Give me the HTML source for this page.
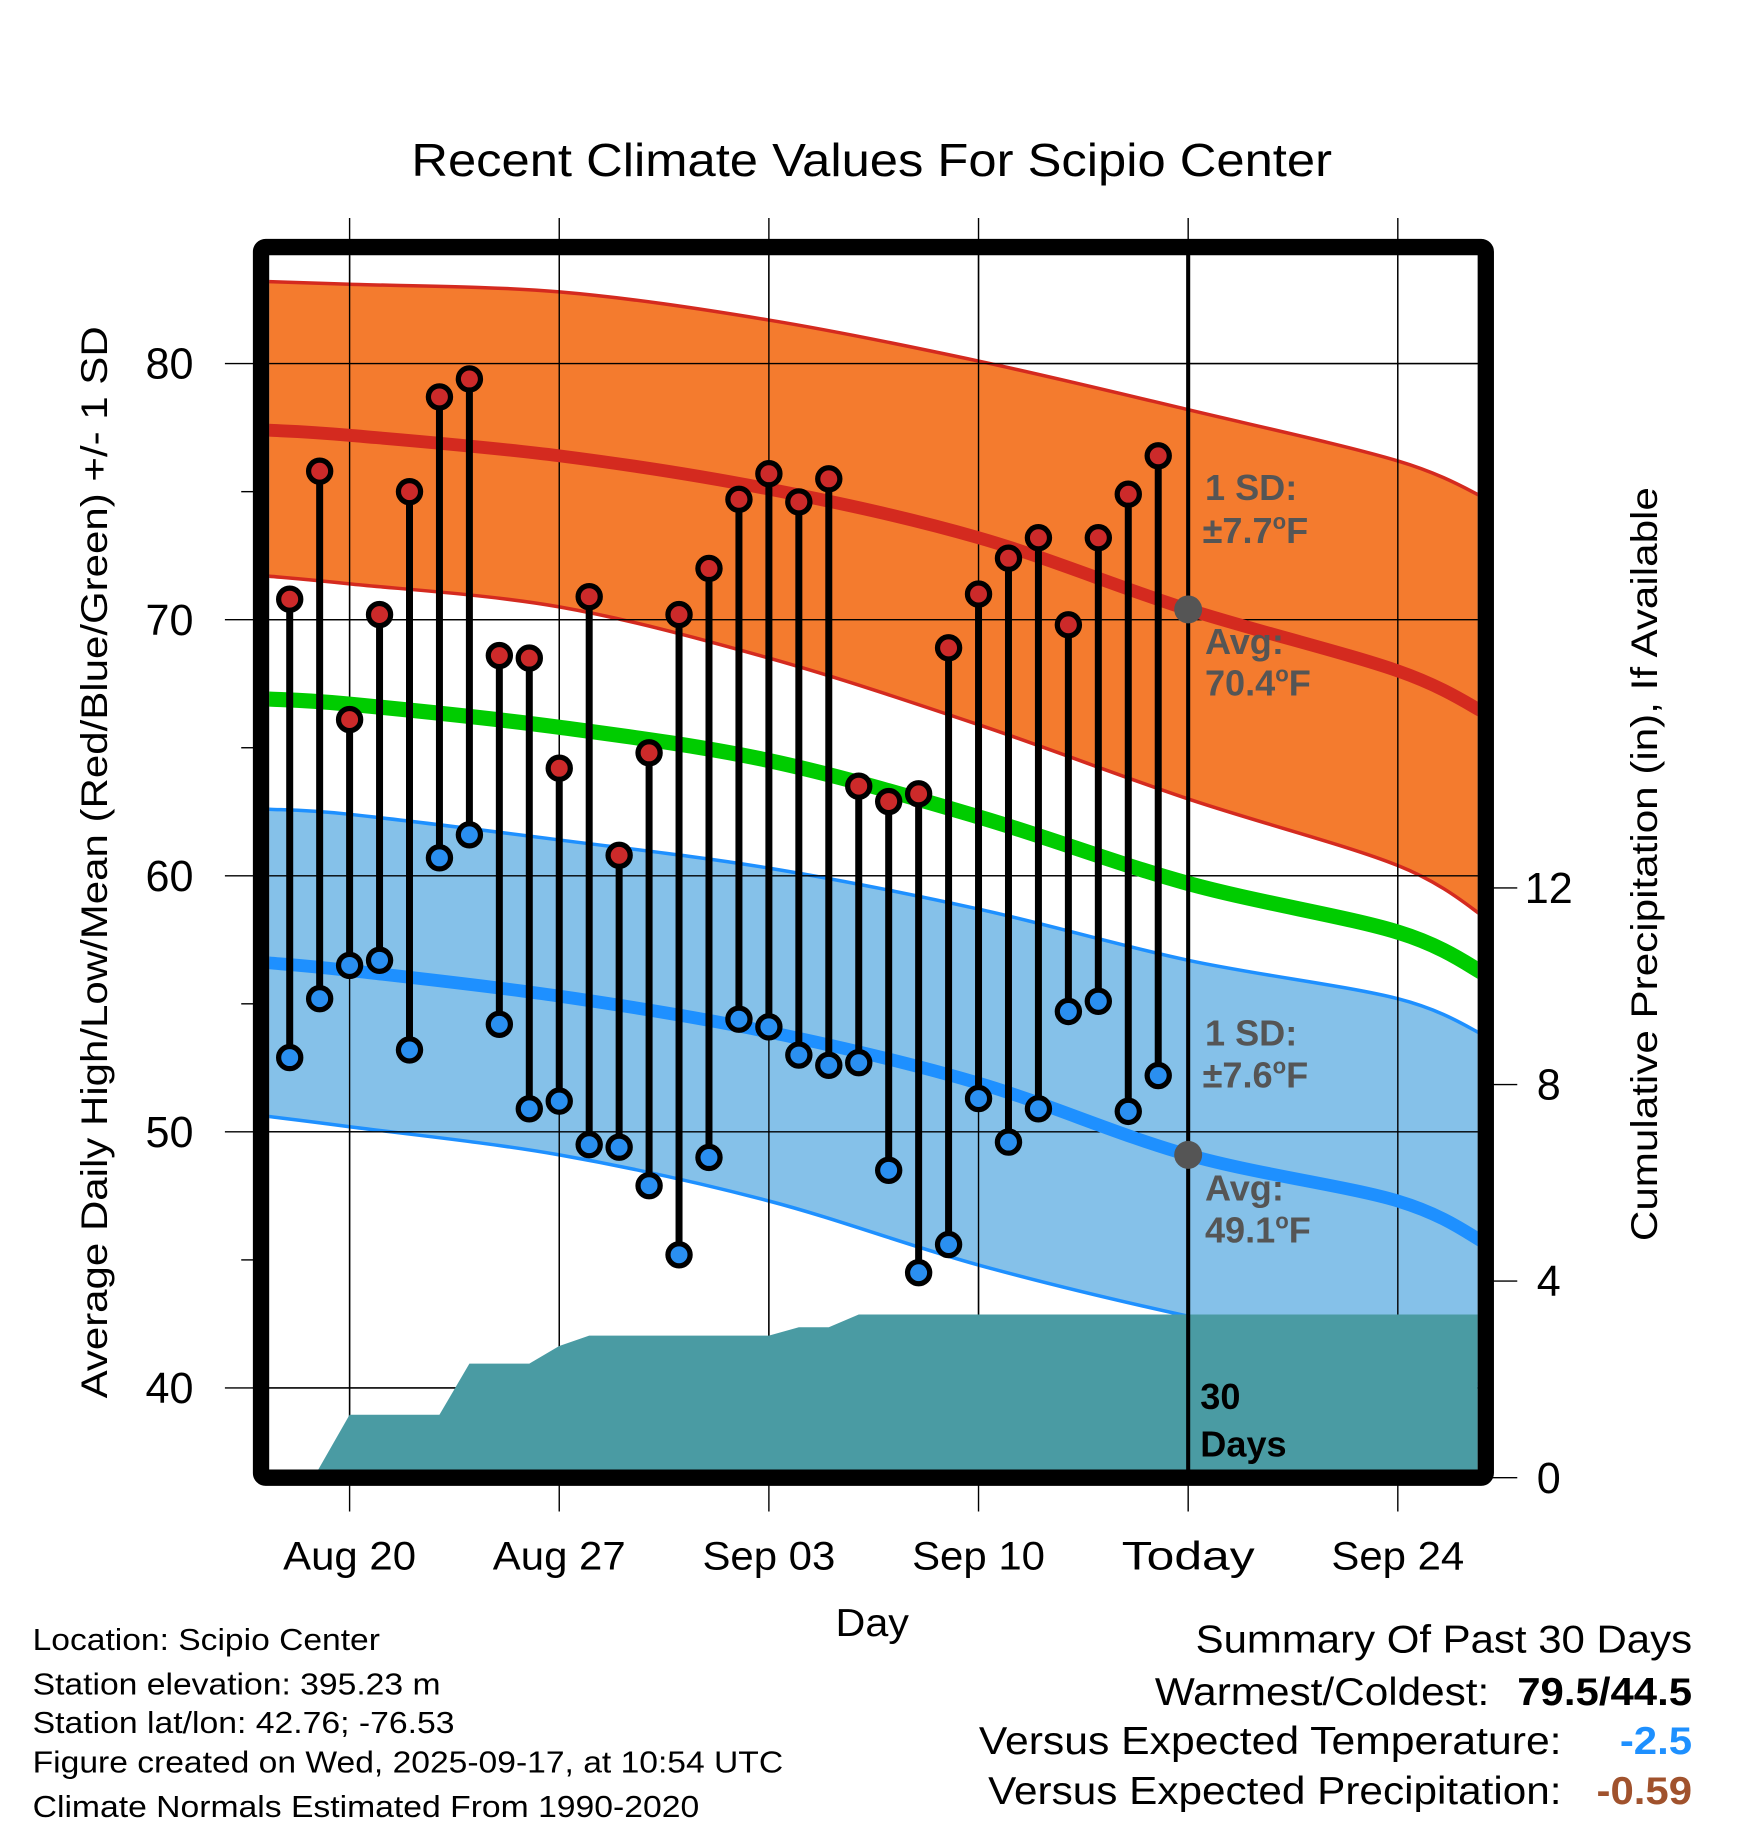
<!DOCTYPE html>
<html><head><meta charset="utf-8"><style>
html,body{margin:0;padding:0;background:#fff;}
svg{display:block;font-family:"Liberation Sans",Arial,sans-serif;}
</style></head><body>
<svg id="chart" width="1748" height="1828" viewBox="0 0 1500 1568.6" xmlns="http://www.w3.org/2000/svg">
<defs><clipPath id="plotclip"><rect x="231" y="219" width="1037" height="1042"/></clipPath></defs>
<rect width="1500" height="1570" fill="#fff"/>
<text x="353" y="151" font-size="40" textLength="790" lengthAdjust="spacingAndGlyphs">Recent Climate Values For Scipio Center</text>
<g id="axes"></g>
<g id="plot" clip-path="url(#plotclip)"></g>
<g id="over"></g>
<rect x="224" y="212" width="1051" height="1056" fill="none" stroke="#000" stroke-width="14" rx="4"/>
<text transform="translate(92,1200) rotate(-90)" font-size="32" textLength="920" lengthAdjust="spacingAndGlyphs">Average Daily High/Low/Mean (Red/Blue/Green) +/- 1 SD</text>
<text transform="translate(1422,1065) rotate(-90)" font-size="32" textLength="647" lengthAdjust="spacingAndGlyphs">Cumulative Precipitation (in), If Available</text>
<text x="717" y="1404" font-size="33" textLength="63" lengthAdjust="spacingAndGlyphs">Day</text>
<g font-size="26">
<text x="28" y="1416" textLength="298" lengthAdjust="spacingAndGlyphs">Location: Scipio Center</text>
<text x="28" y="1454" textLength="350" lengthAdjust="spacingAndGlyphs">Station elevation: 395.23 m</text>
<text x="28" y="1487" textLength="362" lengthAdjust="spacingAndGlyphs">Station lat/lon: 42.76; -76.53</text>
<text x="28" y="1521" textLength="644" lengthAdjust="spacingAndGlyphs">Figure created on Wed, 2025-09-17, at 10:54 UTC</text>
<text x="28" y="1559" textLength="572" lengthAdjust="spacingAndGlyphs">Climate Normals Estimated From 1990-2020</text>
</g>
<g font-size="33">
<text x="1026" y="1418" textLength="426" lengthAdjust="spacingAndGlyphs">Summary Of Past 30 Days</text>
<text x="991" y="1463" textLength="287" lengthAdjust="spacingAndGlyphs">Warmest/Coldest:</text>
<text x="1302" y="1463" font-weight="bold" textLength="150" lengthAdjust="spacingAndGlyphs">79.5/44.5</text>
<text x="840" y="1505" textLength="500" lengthAdjust="spacingAndGlyphs">Versus Expected Temperature:</text>
<text x="1390" y="1505" font-weight="bold" fill="#1e90ff" textLength="62" lengthAdjust="spacingAndGlyphs">-2.5</text>
<text x="848" y="1548" textLength="492" lengthAdjust="spacingAndGlyphs">Versus Expected Precipitation:</text>
<text x="1370" y="1548" font-weight="bold" fill="#a0522d" textLength="82" lengthAdjust="spacingAndGlyphs">-0.59</text>
</g>
</svg>
<script>
// data (days relative to Aug 20)
const obsDays=[-2,-1,0,1,2,3,4,5,6,7,8,9,10,11,12,13,14,15,16,17,18,19,20,21,22,23,24,25,26,27];
const highs=[70.8,75.8,66.1,70.2,75.0,78.7,79.4,68.6,68.5,64.2,70.9,60.8,64.8,70.2,72.0,74.7,75.7,74.6,75.5,63.5,62.9,63.2,68.9,71.0,72.4,73.2,69.8,73.2,74.9,76.4];
const lows=[52.9,55.2,56.5,56.7,53.2,60.7,61.6,54.2,50.9,51.2,49.5,49.4,47.9,45.2,49.0,54.4,54.1,53.0,52.6,52.7,48.5,44.5,45.6,51.3,49.6,50.9,54.7,55.1,50.8,52.2];
const precipDays=[-1.2,0,1,2,3,4,5,6,7,8,9,10,11,12,13,14,15,16,17,18,19,20,21,22,23,24,25,26,27,28,35,38];
const precipCum=[0,1.28,1.28,1.28,1.28,2.32,2.32,2.32,2.68,2.89,2.89,2.89,2.89,2.89,2.89,2.89,3.06,3.06,3.32,3.32,3.32,3.32,3.32,3.32,3.32,3.32,3.32,3.32,3.32,3.32,3.32,3.32];
const normDays=[-2.7,0,7,14,21,28,35,38];
const avgHigh=[77.4,77.2,76.4,75.1,73.2,70.4,68.0,66.3];
const highUpper=[83.2,83.1,82.8,81.7,80.1,78.2,76.2,74.7];
const highLower=[71.7,71.4,70.5,68.5,65.9,63.0,60.4,58.3];
const avgMean=[66.9,66.7,65.8,64.5,62.3,59.7,57.8,56.1];
const avgLow=[56.6,56.3,55.3,53.9,51.9,49.1,47.3,45.6];
const lowUpper=[62.6,62.4,61.4,60.3,58.7,56.7,55.2,53.7];
const lowLower=[50.6,50.2,49.1,47.3,44.8,42.8,41.2,40.0];
const xTickDays=[0,7,14,21,28,35];
const xTickLabels=["Aug 20","Aug 27","Sep 03","Sep 10","Today","Sep 24"];
const yTicks=[40,50,60,70,80];
const yMinor=[45,55,65,75];
const pTicks=[0,4,8,12];
const todayDay=28;

const NS="http://www.w3.org/2000/svg";
const X=d=>300+d*25.7;
const Y=v=>312+(80-v)*21.975;
const P=v=>1268-v*42.17;
function mk(tag,attrs,parent){const e=document.createElementNS(NS,tag);for(const k in attrs)e.setAttribute(k,attrs[k]);parent.appendChild(e);return e;}
const axes=document.getElementById('axes'),plot=document.getElementById('plot'),over=document.getElementById('over');

// smooth curve through points (Catmull-Rom -> cubic bezier), returns segment string without leading M
function smooth(pts){
  let s="";
  for(let i=0;i<pts.length-1;i++){
    const p0=pts[i-1]||pts[i],p1=pts[i],p2=pts[i+1],p3=pts[i+2]||p2;
    const c1=[p1[0]+(p2[0]-p0[0])/6,p1[1]+(p2[1]-p0[1])/6];
    const c2=[p2[0]-(p3[0]-p1[0])/6,p2[1]-(p3[1]-p1[1])/6];
    s+="C"+c1[0]+","+c1[1]+" "+c2[0]+","+c2[1]+" "+p2[0]+","+p2[1];
  }
  return s;
}
function pts(arr){return normDays.map((t,i)=>[X(t),Y(arr[i])]);}
function curve(arr){const p=pts(arr);return "M"+p[0][0]+","+p[0][1]+smooth(p);}

function band(up,lo,fill,stroke,name){
  const pu=pts(up),pl=pts(lo).reverse();
  const d="M"+pu[0][0]+","+pu[0][1]+smooth(pu)+"L"+pl[0][0]+","+pl[0][1]+smooth(pl)+"Z";
  const b=mk('path',{d:d,fill:fill},plot);
  
  
  [up,lo].forEach(arr=>{const l=mk('path',{d:curve(arr),fill:"none",stroke:stroke,"stroke-width":3},plot);
  
  });
}
band(highUpper,highLower,"#f47b2e","#d42a1f","high-sd-band");
band(lowUpper,lowLower,"#85c1e9","#1e90ff","low-sd-band");

// grid
xTickDays.forEach((d,i)=>{
  const g=mk('line',{x1:X(d),x2:X(d),y1:187,y2:1297,stroke:"#000","stroke-width":1.2},axes);
  
  
  const t=mk('text',{x:X(d),y:1347,"font-size":34,"text-anchor":"middle",textLength:114,lengthAdjust:"spacingAndGlyphs"},axes);
  t.textContent=xTickLabels[i];
  
  
});
yTicks.forEach(v=>{
  const g=mk('line',{x1:193,x2:1270,y1:Y(v),y2:Y(v),stroke:"#000","stroke-width":1.2},axes);
  
  
  const t=mk('text',{x:166,y:Y(v)+13,"font-size":37,"text-anchor":"end"},axes);
  t.textContent=v;
  
  
});
yMinor.forEach(v=>{const m=mk('line',{x1:207,x2:218,y1:Y(v),y2:Y(v),stroke:"#000","stroke-width":1.2},axes);
  
  });
pTicks.forEach(v=>{
  const m=mk('line',{x1:1280,x2:1302,y1:P(v),y2:P(v),stroke:"#000","stroke-width":1.2},axes);
  
  
  const t=mk('text',{x:1329,y:P(v)+13,"font-size":37,"text-anchor":"middle"},axes);
  t.textContent=v;
  
  
});
xTickDays.forEach(d=>{const g=mk('line',{x1:X(d),x2:X(d),y1:219,y2:1261,stroke:"#000","stroke-width":1.2},plot);
  
  });
yTicks.forEach(v=>{const g=mk('line',{x1:231,x2:1268,y1:Y(v),y2:Y(v),stroke:"#000","stroke-width":1.2},plot);
  
  });

function line(arr,color,w,name){const l=mk('path',{d:curve(arr),fill:"none",stroke:color,"stroke-width":w},plot);
  
  }
line(avgHigh,"#d42a1f",11,"avg-high-line");
line(avgMean,"#00cc00",13,"avg-mean-line");
line(avgLow,"#1e90ff",11,"avg-low-line");

// precip
let pd="M"+X(precipDays[0])+","+P(0)+"L"+precipDays.map((t,i)=>X(t)+","+P(precipCum[i])).join("L")+"L"+X(38)+","+P(0)+"Z";
const pa=mk('path',{d:pd,fill:"#4a9ba3"},plot);



const tl=mk('line',{x1:X(todayDay),x2:X(todayDay),y1:212,y2:1268,stroke:"#000","stroke-width":3.5},over);



function txt(x,y,s,fill,name,size){const t=mk('text',{x:x,y:y,"font-size":size||31,"font-weight":"bold",fill:fill},over);t.innerHTML=s;
  
  }
const deg="<tspan dy='-12' font-size='19'>o</tspan><tspan dy='12'>F</tspan>";
txt(1034,429,"1 SD:","#555","high-sd-label");
txt(1032,466,"±7.7"+deg,"#555","high-avg-sd-value");
txt(1034,561,"Avg:","#555","high-avg-label");
txt(1034,597,"70.4"+deg,"#555","high-avg-value");
txt(1034,897,"1 SD:","#555","low-sd-label");
txt(1032,933,"±7.6"+deg,"#555","low-sd-value");
txt(1034,1030,"Avg:","#555","low-avg-label");
txt(1034,1066,"49.1"+deg,"#555","low-avg-value");
txt(1030,1209,"30","#000","days-count-label");
txt(1030,1250,"Days","#000","days-label");
[[avgHigh[5],'today-avg-high-dot'],[avgLow[5],'today-avg-low-dot']].forEach(a=>{
  const c=mk('circle',{cx:X(todayDay),cy:Y(a[0]),r:12,fill:"#555"},over);
  
  });

obsDays.forEach((d,i)=>{
  const s=mk('line',{x1:X(d),x2:X(d),y1:Y(highs[i]),y2:Y(lows[i]),stroke:"#000","stroke-width":6},over);
  
  
  const h=mk('circle',{cx:X(d),cy:Y(highs[i]),r:9.5,fill:"#cc2a2a",stroke:"#000","stroke-width":4.5},over);
  
  
  const l=mk('circle',{cx:X(d),cy:Y(lows[i]),r:9.5,fill:"#2a8ff0",stroke:"#000","stroke-width":4.5},over);
  
  
});
</script>
</body></html>
